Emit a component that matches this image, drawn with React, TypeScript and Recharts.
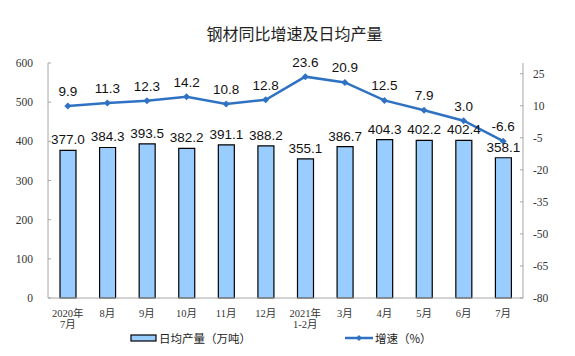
import React from 'react';
import { ComposedChart, Bar, Line, XAxis, YAxis, LabelList, Legend } from 'recharts';

const months = ['2020年\n7月', '8月', '9月', '10月', '11月', '12月', '2021年\n1-2月', '3月', '4月', '5月', '6月', '7月'];
const dailyOutput = [377.0, 384.3, 393.5, 382.2, 391.1, 388.2, 355.1, 386.7, 404.3, 402.2, 402.4, 358.1];
const growthRate = [9.9, 11.3, 12.3, 14.2, 10.8, 12.8, 23.6, 20.9, 12.5, 7.9, 3.0, -6.6];
const leftTicks = [0, 100, 200, 300, 400, 500, 600];
const rightTicks = [-80, -65, -50, -35, -20, -5, 10, 25];

const data = months.map((m, i) => ({ month: m, output: dailyOutput[i], growth: growthRate[i] }));

const LINE_COLOR = '#2F72C4';
const BAR_FILL = '#99CCFF';
const AXIS_COLOR = '#A6A6A6';
const SERIF = "'Liberation Serif', 'Noto Sans CJK SC', serif";
const SANS = "'Liberation Sans', Arial, sans-serif";
const CJK = "'Noto Sans CJK SC', sans-serif";

const XTick = (props: any) => {
  const { x, y, payload } = props;
  const lines = String(payload.value).split('\n');
  return (
    <text x={x} y={y + 13} textAnchor="middle" fontSize={10.5} fontFamily={SERIF} fill="#333">
      {lines.map((l, i) => (
        <tspan key={i} x={x} dy={i === 0 ? 0 : 11}>
          {l}
        </tspan>
      ))}
    </text>
  );
};

const Diamond = (props: any) => {
  const { cx, cy } = props;
  if (cx == null || cy == null) return null;
  const r = 3.5;
  return <path d={`M${cx},${cy - r}L${cx + r},${cy}L${cx},${cy + r}L${cx - r},${cy}Z`} fill={LINE_COLOR} />;
};

const fmt = (v: any) => Number(v).toFixed(1);

const LegendContent = () => (
  <svg width={575} height={20} style={{ display: 'block' }}>
    <rect x={131} y={5} width={25} height={6} fill={BAR_FILL} stroke="#000" strokeWidth={1.2} />
    <text x={159} y={12.5} fontSize={11.5} fontFamily={CJK} fill="#222">日均产量（万吨）</text>
    <line x1={345} y1={8} x2={373} y2={8} stroke={LINE_COLOR} strokeWidth={2.5} />
    <path d="M359,5L362,8L359,11L356,8Z" fill={LINE_COLOR} />
    <text x={375} y={12.5} fontSize={11.5} fontFamily={CJK} fill="#222">增速（%）</text>
  </svg>
);

export default function App() {
  return (
    <div style={{ position: 'absolute', left: 0, top: 0, width: 575, height: 356, background: '#fff' }}>
      <div
        style={{
          position: 'absolute',
          left: 0,
          width: 589,
          top: 22,
          textAlign: 'center',
          fontFamily: CJK,
          fontSize: 16,
          color: '#222',
          lineHeight: '22px',
        }}
      >
        钢材同比增速及日均产量
      </div>
      <ComposedChart width={575} height={356} data={data} margin={{ top: 63, right: 0, bottom: 0, left: 0 }}>
        <XAxis
          dataKey="month"
          interval={0}
          height={58}
          axisLine={{ stroke: AXIS_COLOR }}
          tickLine={false}
          tickSize={6}
          tickMargin={0}
          tick={<XTick />}
        />
        <YAxis
          yAxisId="left"
          orientation="left"
          width={48}
          domain={[0, 600]}
          ticks={leftTicks}
          axisLine={{ stroke: AXIS_COLOR }}
          tickLine={{ stroke: AXIS_COLOR }}
          tickSize={-3}
          tickMargin={18}
          tick={{ fontSize: 11.5, fontFamily: SERIF, fill: '#333' }}
        />
        <YAxis
          yAxisId="right"
          orientation="right"
          width={52}
          domain={[-80, 30]}
          ticks={rightTicks}
          axisLine={{ stroke: AXIS_COLOR }}
          tickLine={{ stroke: AXIS_COLOR }}
          tickSize={-3}
          tickMargin={13}
          tick={{ fontSize: 11.5, fontFamily: SERIF, fill: '#333', textAnchor: 'start' }}
        />
        <Legend
          layout="horizontal"
          verticalAlign="middle"
          align="center"
          wrapperStyle={{ position: 'absolute', left: 0, top: 330, width: 575, height: 20 }}
          content={<LegendContent />}
        />
        <Bar
          yAxisId="left"
          dataKey="output"
          name="日均产量（万吨）"
          barSize={16}
          fill={BAR_FILL}
          stroke="#000"
          strokeWidth={1.2}
          isAnimationActive={false}
        >
          <LabelList
            dataKey="output"
            position="top"
            offset={6}
            formatter={fmt}
            style={{ fontSize: 13.5, fontFamily: SANS, fill: '#111' }}
          />
        </Bar>
        <Line
          yAxisId="right"
          dataKey="growth"
          name="增速（%）"
          stroke={LINE_COLOR}
          strokeWidth={2.5}
          dot={<Diamond />}
          activeDot={false}
          isAnimationActive={false}
        >
          <LabelList
            dataKey="growth"
            position="top"
            offset={10}
            formatter={fmt}
            style={{ fontSize: 13.5, fontFamily: SANS, fill: '#111' }}
          />
        </Line>
      </ComposedChart>
    </div>
  );
}
